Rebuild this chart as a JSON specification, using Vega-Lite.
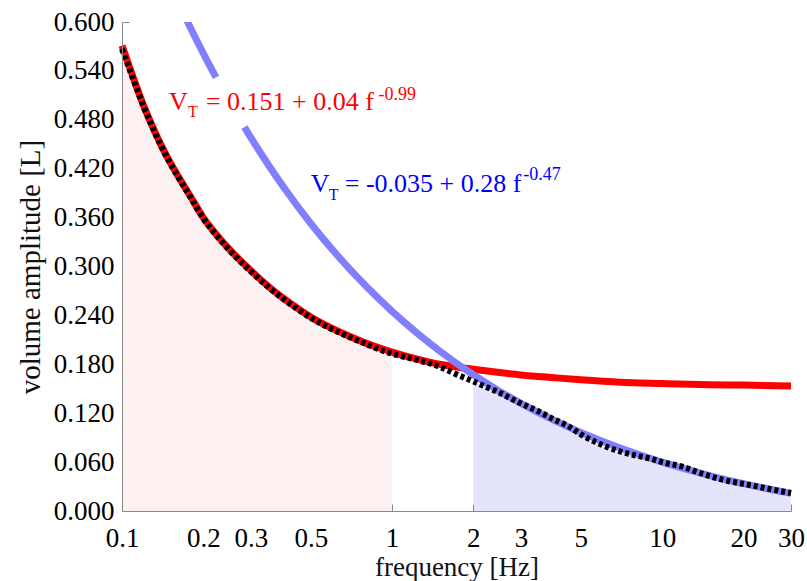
{
  "$schema": "https://vega.github.io/schema/vega-lite/v6.json",
  "width": 669,
  "height": 489,
  "autosize": "none",
  "padding": {"left": 122, "top": 22, "right": 16, "bottom": 70},
  "background": "white",
  "config": {
    "view": {"stroke": null},
    "font": "Liberation Serif"
  },
  "datasets": {
    "meas": [
      {"f": 0.1, "v": 0.567}, {"f": 0.11, "v": 0.530}, {"f": 0.12, "v": 0.497}, {"f": 0.13, "v": 0.470},
      {"f": 0.14, "v": 0.447}, {"f": 0.15, "v": 0.428}, {"f": 0.16, "v": 0.412}, {"f": 0.18, "v": 0.384},
      {"f": 0.2, "v": 0.359}, {"f": 0.22, "v": 0.341}, {"f": 0.25, "v": 0.320}, {"f": 0.3, "v": 0.294},
      {"f": 0.35, "v": 0.274}, {"f": 0.4, "v": 0.259}, {"f": 0.45, "v": 0.247}, {"f": 0.5, "v": 0.237},
      {"f": 0.6, "v": 0.223}, {"f": 0.7, "v": 0.213}, {"f": 0.8, "v": 0.205}, {"f": 0.9, "v": 0.198},
      {"f": 1, "v": 0.193}, {"f": 1.25, "v": 0.185}, {"f": 1.5, "v": 0.177}, {"f": 1.75, "v": 0.167},
      {"f": 2, "v": 0.159}, {"f": 2.5, "v": 0.145}, {"f": 3, "v": 0.132}, {"f": 3.5, "v": 0.122},
      {"f": 4, "v": 0.112}, {"f": 4.5, "v": 0.104}, {"f": 5, "v": 0.094}, {"f": 6, "v": 0.081},
      {"f": 7, "v": 0.073}, {"f": 8, "v": 0.068}, {"f": 9, "v": 0.0645}, {"f": 10, "v": 0.060},
      {"f": 12, "v": 0.054}, {"f": 14, "v": 0.046}, {"f": 16, "v": 0.040}, {"f": 18, "v": 0.036},
      {"f": 21, "v": 0.032}, {"f": 25, "v": 0.027}, {"f": 30, "v": 0.022}
    ],
    "fitr": [
      {"f": 0.1, "v": 0.571}, {"f": 0.11, "v": 0.532}, {"f": 0.12, "v": 0.498}, {"f": 0.13, "v": 0.471},
      {"f": 0.14, "v": 0.448}, {"f": 0.15, "v": 0.429}, {"f": 0.16, "v": 0.413}, {"f": 0.18, "v": 0.385},
      {"f": 0.2, "v": 0.360}, {"f": 0.22, "v": 0.342}, {"f": 0.25, "v": 0.321}, {"f": 0.3, "v": 0.295},
      {"f": 0.35, "v": 0.275}, {"f": 0.4, "v": 0.260}, {"f": 0.45, "v": 0.248}, {"f": 0.5, "v": 0.238},
      {"f": 0.6, "v": 0.224}, {"f": 0.7, "v": 0.214}, {"f": 0.8, "v": 0.206}, {"f": 0.9, "v": 0.200},
      {"f": 1, "v": 0.195}, {"f": 1.25, "v": 0.186}, {"f": 1.5, "v": 0.180}, {"f": 2, "v": 0.174},
      {"f": 2.5, "v": 0.170}, {"f": 3, "v": 0.167}, {"f": 4, "v": 0.1635}, {"f": 5, "v": 0.161},
      {"f": 7, "v": 0.158}, {"f": 10, "v": 0.1565}, {"f": 15, "v": 0.155}, {"f": 20, "v": 0.1545},
      {"f": 30, "v": 0.1535}
    ],
    "fitb": [
      {"f": 0.15, "v": 0.648}, {"f": 0.175, "v": 0.600}, {"f": 0.2, "v": 0.5616}, {"f": 0.2229, "v": 0.532},
      {"f": 0.25, "v": 0.5022}, {"f": 0.284, "v": 0.471}, {"f": 0.3, "v": 0.4581}, {"f": 0.35, "v": 0.4236},
      {"f": 0.4, "v": 0.3957}, {"f": 0.5, "v": 0.3528}, {"f": 0.6, "v": 0.3210}, {"f": 0.7, "v": 0.2961},
      {"f": 0.8, "v": 0.2760}, {"f": 1, "v": 0.245}, {"f": 1.25, "v": 0.2171}, {"f": 1.5, "v": 0.1964},
      {"f": 2, "v": 0.1672}, {"f": 2.5, "v": 0.1470}, {"f": 3, "v": 0.1321}, {"f": 4, "v": 0.1109},
      {"f": 5, "v": 0.0964}, {"f": 7, "v": 0.0772}, {"f": 10, "v": 0.0599}, {"f": 15, "v": 0.0434},
      {"f": 20, "v": 0.0335}, {"f": 30, "v": 0.0216}
    ],
    "labels": [
      {"part": "V", "series": "r", "fx": 0.1492, "vy": 0.4917},
      {"part": "T", "series": "r", "fx": 0.1755, "vy": 0.4833},
      {"part": "= 0.151 + 0.04 f", "series": "r", "fx": 0.2045, "vy": 0.4917},
      {"part": "-0.99", "series": "r", "fx": 0.89, "vy": 0.504},
      {"part": "V", "series": "b", "fx": 0.5003, "vy": 0.3912},
      {"part": "T", "series": "b", "fx": 0.5833, "vy": 0.3814},
      {"part": "= -0.035 + 0.28 f", "series": "b", "fx": 0.668, "vy": 0.3912},
      {"part": "-0.47", "series": "b", "fx": 3.06, "vy": 0.4059}
    ]
  },
  "layer": [
    {
      "data": {"name": "meas"},
      "transform": [{"filter": "datum.f <= 1"}],
      "mark": {"type": "area", "color": "#fdf0f0", "interpolate": "monotone"},
      "encoding": {
        "x": {
          "field": "f", "type": "quantitative",
          "scale": {"type": "log", "domain": [0.1, 30], "nice": false},
          "axis": {
            "title": "frequency [Hz]",
            "values": [0.1, 0.2, 0.3, 0.5, 1, 2, 3, 5, 10, 20, 30],
            "format": "~g",
            "labelFont": "Liberation Serif", "labelFontSize": 27, "labelColor": "#000",
            "labelPadding": 21, "labelFlush": false, "labelOverlap": false, "labelBound": false,
            "ticks": true, "tickSize": -7, "tickWidth": 1,
            "tickColor": {"condition": {"test": "datum.value == 1 || datum.value == 2 || datum.value == 30", "value": "#888"}, "value": "transparent"},
            "grid": false,
            "domainColor": "#888", "domainWidth": 1,
            "titleFont": "Liberation Serif", "titleFontSize": 27, "titleFontWeight": "normal",
            "titleColor": "#111", "titlePadding": 3,
            "zindex": 1
          }
        },
        "y": {
          "field": "v", "type": "quantitative",
          "scale": {"domain": [0, 0.6], "nice": false, "zero": true},
          "axis": {
            "title": "volume amplitude [L]",
            "values": [0, 0.06, 0.12, 0.18, 0.24, 0.3, 0.36, 0.42, 0.48, 0.54, 0.6],
            "format": ".3f",
            "labelFont": "Liberation Serif", "labelFontSize": 27, "labelColor": "#000",
            "labelPadding": 15, "labelOverlap": false, "labelBound": false, "labelFlush": false,
            "ticks": true, "tickSize": -7, "tickWidth": 1,
            "tickColor": {"condition": {"test": "datum.value >= 0.59", "value": "#888"}, "value": "transparent"},
            "grid": false,
            "domainColor": "#888", "domainWidth": 1,
            "titleFont": "Liberation Serif", "titleFontSize": 29, "titleFontWeight": "normal",
            "titleColor": "#111", "titlePadding": 8,
            "zindex": 1
          }
        }
      }
    },
    {
      "data": {"name": "meas"},
      "transform": [{"filter": "datum.f >= 2"}],
      "mark": {"type": "area", "color": "#e4e4fc", "interpolate": "monotone"},
      "encoding": {"x": {"field": "f", "type": "quantitative"}, "y": {"field": "v", "type": "quantitative"}}
    },
    {
      "data": {"name": "fitr"},
      "mark": {"type": "line", "color": "#ff0000", "strokeWidth": 7, "interpolate": "monotone"},
      "encoding": {"x": {"field": "f", "type": "quantitative"}, "y": {"field": "v", "type": "quantitative"}}
    },
    {
      "data": {"name": "fitb"},
      "transform": [{"filter": "datum.f <= 0.2229"}],
      "mark": {"type": "line", "color": "#8080ff", "strokeWidth": 7, "interpolate": "monotone", "clip": true},
      "encoding": {"x": {"field": "f", "type": "quantitative"}, "y": {"field": "v", "type": "quantitative"}}
    },
    {
      "data": {"name": "fitb"},
      "transform": [{"filter": "datum.f >= 0.284"}],
      "mark": {"type": "line", "color": "#8080ff", "strokeWidth": 7, "interpolate": "monotone"},
      "encoding": {"x": {"field": "f", "type": "quantitative"}, "y": {"field": "v", "type": "quantitative"}}
    },
    {
      "data": {"name": "meas"},
      "mark": {"type": "line", "color": "#000", "strokeWidth": 6, "strokeDash": [4, 3], "interpolate": "monotone"},
      "encoding": {"x": {"field": "f", "type": "quantitative"}, "y": {"field": "v", "type": "quantitative"}}
    },
    {
      "data": {"name": "labels"},
      "transform": [{"filter": "datum.part == 'V'"}],
      "mark": {"type": "text", "font": "Liberation Serif", "fontSize": 26, "align": "left", "baseline": "alphabetic"},
      "encoding": {
        "x": {"field": "fx", "type": "quantitative"},
        "y": {"field": "vy", "type": "quantitative"},
        "text": {"field": "part"},
        "color": {"field": "series", "type": "nominal", "scale": {"domain": ["r", "b"], "range": ["#ff0000", "#0000ff"]}, "legend": null}
      }
    },
    {
      "data": {"name": "labels"},
      "transform": [{"filter": "datum.part == 'T'"}],
      "mark": {"type": "text", "font": "Liberation Serif", "fontSize": 16, "align": "left", "baseline": "alphabetic"},
      "encoding": {
        "x": {"field": "fx", "type": "quantitative"},
        "y": {"field": "vy", "type": "quantitative"},
        "text": {"field": "part"},
        "color": {"field": "series", "type": "nominal", "legend": null}
      }
    },
    {
      "data": {"name": "labels"},
      "transform": [{"filter": "indexof(datum.part, '=') == 0"}],
      "mark": {"type": "text", "font": "Liberation Serif", "fontSize": 26, "align": "left", "baseline": "alphabetic"},
      "encoding": {
        "x": {"field": "fx", "type": "quantitative"},
        "y": {"field": "vy", "type": "quantitative"},
        "text": {"field": "part"},
        "color": {"field": "series", "type": "nominal", "legend": null}
      }
    },
    {
      "data": {"name": "labels"},
      "transform": [{"filter": "indexof(datum.part, '-0.') == 0"}],
      "mark": {"type": "text", "font": "Liberation Serif", "fontSize": 18, "align": "left", "baseline": "alphabetic"},
      "encoding": {
        "x": {"field": "fx", "type": "quantitative"},
        "y": {"field": "vy", "type": "quantitative"},
        "text": {"field": "part"},
        "color": {"field": "series", "type": "nominal", "legend": null}
      }
    }
  ]
}
